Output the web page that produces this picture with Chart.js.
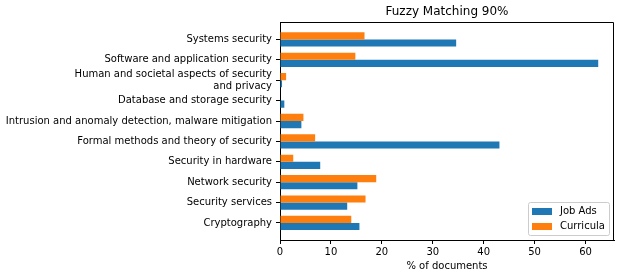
<!DOCTYPE html>
<html><head><meta charset="utf-8">
<script src="https://cdn.jsdelivr.net/npm/chart.js@4"></script>
<style>html,body{margin:0;padding:0;background:#fff;}</style>
</head><body>
<canvas id="c" width="621" height="278"></canvas>
<script>
const categories = [
  'Systems security',
  'Software and application security',
  'Human and societal aspects of security\nand privacy',
  'Database and storage security',
  'Intrusion and anomaly detection, malware mitigation',
  'Formal methods and theory of security',
  'Security in hardware',
  'Network security',
  'Security services',
  'Cryptography'
];
const jobAds    = [34.6, 62.5, 0.4, 0.85, 4.2, 43.1, 7.9, 15.2, 13.2, 15.6];
const curricula = [16.6, 14.8, 1.2, 0.0, 4.6, 6.9, 2.6, 18.9, 16.8, 14.0];
const xTicks = [0, 10, 20, 30, 40, 50, 60];
const titleText = 'Fuzzy Matching 90%';
const xTitle = '% of documents';

Chart.defaults.font.family = '"DejaVu Sans", sans-serif';
Chart.defaults.font.size = 10;
Chart.defaults.color = '#000';

const toPoints = arr => arr.map((v, i) => ({x: v, y: i}));

const framePlugin = {
  id: 'frame',
  afterDatasetsDraw(chart) {
    const a = chart.chartArea, ctx = chart.ctx;
    ctx.save();
    ctx.strokeStyle = '#000';
    ctx.lineWidth = 1;
    ctx.beginPath();
    ctx.moveTo(Math.round(a.left) + 0.5, Math.round(a.top) + 0.5);
    ctx.lineTo(Math.round(a.right) - 0.5, Math.round(a.top) + 0.5);
    ctx.lineTo(Math.round(a.right) - 0.5, Math.round(a.bottom) + 0.5);
    ctx.stroke();
    ctx.restore();
  }
};

const legendPlugin = {
  id: 'boxLegend',
  afterDraw(chart) {
    const ctx = chart.ctx, a = chart.chartArea;
    const ds = chart.data.datasets;
    const items = [ds[1], ds[0]];
    ctx.save();
    ctx.font = '10px "DejaVu Sans"';
    const tw = Math.max(...items.map(d => ctx.measureText(d.label).width));
    const w = Math.round(32 + tw + 4), h = 33;
    const x = Math.round(a.right - 5 - w), y = Math.round(a.bottom - 5 - h);
    ctx.fillStyle = 'rgba(255,255,255,0.8)';
    ctx.strokeStyle = '#cccccc';
    ctx.lineWidth = 1;
    ctx.beginPath();
    ctx.roundRect(x + 0.5, y + 0.5, w, h, 2);
    ctx.fill();
    ctx.stroke();
    items.forEach((d, i) => {
      const cy = y + 9.5 + i * 15;
      ctx.fillStyle = d.backgroundColor;
      ctx.fillRect(x + 4, Math.round(cy - 3.5), 20, 7);
      ctx.fillStyle = '#000';
      ctx.textBaseline = 'middle';
      ctx.textAlign = 'left';
      ctx.fillText(d.label, x + 32, cy);
    });
    ctx.restore();
  }
};

new Chart(document.getElementById('c'), {
  type: 'bar',
  data: {
    datasets: [
      {label: 'Curricula', data: toPoints(curricula), backgroundColor: '#ff7f0e', borderWidth: 0},
      {label: 'Job Ads', data: toPoints(jobAds), backgroundColor: '#1f77b4', borderWidth: 0}
    ]
  },
  options: {
    indexAxis: 'y',
    responsive: false,
    animation: false,
    devicePixelRatio: 1,
    categoryPercentage: 0.7,
    barPercentage: 1.0,
    layout: {padding: {left: 0, right: 7, top: 0, bottom: 0}},
    plugins: {
      legend: {display: false},
      tooltip: {enabled: false},
      title: {
        display: true, text: titleText, fullSize: false,
        font: {size: 12, weight: 'normal'}, color: '#000',
        padding: {top: 5, bottom: 3}
      }
    },
    scales: {
      y: {
        type: 'linear', reverse: true, min: -0.835, max: 9.835, bounds: 'data', offset: false,
        afterBuildTicks: s => { s.ticks = categories.map((_, i) => ({value: i})); },
        afterFit: s => { s.width = 280; },
        ticks: {callback: v => categories[v] ? categories[v].split('\n') : '', color: '#000', padding: 4, autoSkip: false, font: {size: 10, lineHeight: 1.17}},
        grid: {drawOnChartArea: false, drawTicks: true, tickLength: 4, color: '#000', offset: false},
        border: {display: true, color: '#000'}
      },
      x: {
        type: 'linear', min: 0, max: 65.6, bounds: 'data',
        afterBuildTicks: s => { s.ticks = xTicks.map(v => ({value: v})); },
        afterFit: s => { s.height = 38; },
        ticks: {color: '#000', padding: 2, maxRotation: 0, font: {size: 10}},
        grid: {drawOnChartArea: false, drawTicks: true, tickLength: 4, color: '#000'},
        border: {display: true, color: '#000'},
        title: {display: true, text: xTitle, color: '#000', font: {size: 10}, padding: {top: 0, bottom: 6}}
      }
    }
  },
  plugins: [framePlugin, legendPlugin]
});
</script>
</body></html>
